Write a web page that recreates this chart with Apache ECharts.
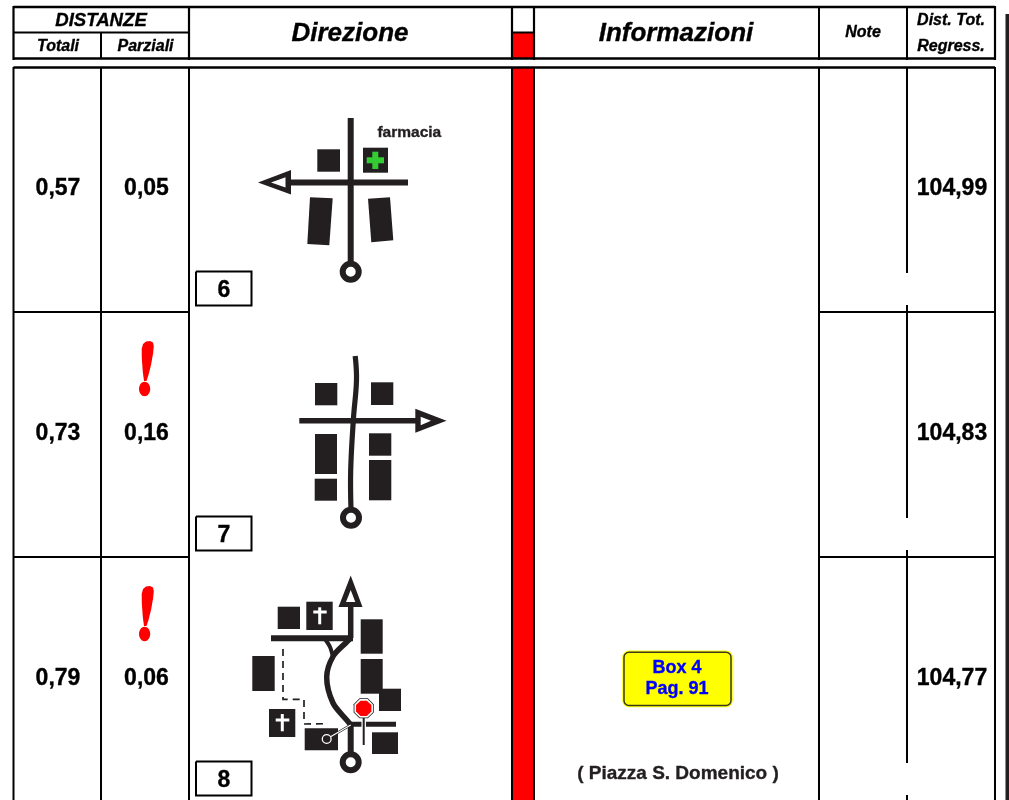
<!DOCTYPE html>
<html><head><meta charset="utf-8">
<style>html,body{margin:0;padding:0;background:#fff}#c{width:1009px;height:800px}</style>
<script src="https://cdn.jsdelivr.net/npm/echarts@6/dist/echarts.min.js"></script>
</head><body><div id="c"></div>
<script>
// ---- table values
const totali = ['0,57', '0,73', '0,79'];
const parziali = ['0,05', '0,16', '0,06'];
const regress = ['104,99', '104,83', '104,77'];
const stepNumbers = ['6', '7', '8'];
const hasWarning = [false, true, true];
const groupHeader = 'DISTANZE';
const subHeaders = ['Totali', 'Parziali'];
const mainHeaders = ['Direzione', 'Informazioni'];
const noteHeader = 'Note';
const regressHeader = ['Dist. Tot.', 'Regress.'];
const landmark = 'farmacia';
const boxLines = ['Box 4', 'Pag. 91'];
const placeName = '( Piazza S. Domenico )';

// ---- table geometry
const rowMid = [189, 434, 679];
const rowRule = [312, 557];
const stepBoxTop = [271.5, 516.5, 761.5];

const INK = '#231f20', BLACK = '#000', RED = '#ff0000', WHITE = '#fff';
const marks = [];
const line = (pts, w, c, extra) => marks.push(Object.assign({k: 'line', pts, w, c}, extra));
const poly = (pts, c) => marks.push({k: 'poly', pts, c});
const box = (x0, y0, x1, y1, c) => poly([[x0, y0], [x1, y0], [x1, y1], [x0, y1]], c);
const circle = (x, y, r, fill, stroke, w) => marks.push({k: 'circle', x, y, r, fill, stroke, w});
const text = (t, x, y, font, c) => marks.push({k: 'text', t, x, y, font, c});
const octagon = (x, y, r, c) => {
  const p = [];
  for (let i = 0; i < 8; i++) {
    const a = Math.PI / 8 + i * Math.PI / 4;
    p.push([x + r * Math.cos(a), y + r * Math.sin(a)]);
  }
  poly(p, c);
};

// ---- red column
box(512, 33, 534, 58, RED);
box(512, 68, 534, 800, RED);

// ---- header rules
const HW = 2.4;
line([[13.5, 7], [995, 7]], HW, BLACK);
line([[13.5, 58.5], [995, 58.5]], HW, BLACK);
line([[13.5, 32.5], [189, 32.5]], 2, BLACK);
line([[512, 32.5], [534, 32.5]], 2, BLACK);
[13.5, 189, 512, 534, 819, 907, 995].forEach(x => line([[x, 6], [x, 60]], x === 907 || x === 819 ? 2 : 2.2, BLACK));
line([[101, 32], [101, 59]], 2, BLACK);

// ---- body rules
line([[13.5, 67.5], [995, 67.5]], HW, BLACK);
[13.5, 101, 189, 512, 534, 819, 995].forEach(x => line([[x, 67], [x, 800]], 2, BLACK));
line([[907, 67], [907, 273]], 2, BLACK);
line([[907, 305], [907, 518]], 2, BLACK);
line([[907, 550], [907, 763]], 2, BLACK);
line([[907, 795], [907, 800]], 2, BLACK);
rowRule.forEach(y => {
  line([[13.5, y], [189, y]], 2, BLACK);
  line([[819, y], [995, y]], 2, BLACK);
});
line([[1007.5, 14], [1007.5, 800]], 4, INK);

// ---- header text
const bi = s => `italic bold ${s}px "Liberation Sans", Arial, sans-serif`;
const b = s => `bold ${s}px "Liberation Sans", Arial, sans-serif`;
text(groupHeader, 101, 21, bi(18.6), BLACK);
text(subHeaders[0], 58, 47, bi(16), BLACK);
text(subHeaders[1], 145.5, 47, bi(16), BLACK);
text(mainHeaders[0], 350, 34, bi(26), BLACK);
text(mainHeaders[1], 676, 34, bi(26), BLACK);
text(noteHeader, 863, 33, bi(16), BLACK);
text(regressHeader[0], 951, 21, bi(16), BLACK);
text(regressHeader[1], 951, 47, bi(16), BLACK);

// ---- row values
rowMid.forEach((y, i) => {
  text(totali[i], 58, y, b(23), BLACK);
  text(parziali[i], 146.5, y, b(23), BLACK);
  text(regress[i], 952, y, b(23), BLACK);
  const t = stepBoxTop[i];
  line([[196, t], [251.5, t], [251.5, t + 34], [196, t + 34], [196, t]], 2, BLACK);
  text(stepNumbers[i], 224, t + 19, b(23), BLACK);
  if (hasWarning[i]) {
    const d = (i - 1) * 245;
    poly([[146, 341.5], [150, 341], [153, 342.5], [153.8, 346], [153, 354], [151, 365], [148.5, 375], [146.5, 381],
      [144, 381], [142.8, 372], [141.8, 358], [141.7, 349], [143, 344]]
      .map(p => [p[0], p[1] + d]), RED);
    marks.push({k: 'ellipse', x: 144.6, y: 389 + d, rx: 5.6, ry: 7.2, c: RED});
  }
});

// ---- diagram 6
line([[350.7, 118], [350.7, 264]], 6, INK);
line([[288, 182.4], [408, 182.4]], 6, INK);
poly([[258, 182.4], [291, 170], [291, 194.5]], INK);
poly([[271, 182.4], [285.5, 177.3], [285.5, 187.5]], WHITE);
circle(350.7, 271.7, 8, WHITE, INK, 6);
box(317.3, 149.3, 340, 171.7, INK);
box(363, 147.7, 388, 172.7, INK);
box(372.3, 151.7, 378.3, 169, '#33cc33');
box(366.7, 157.3, 384, 163.3, '#33cc33');
poly([[310, 197.3], [332.7, 198.3], [329.3, 245.3], [307.3, 244]], INK);
poly([[368, 198.7], [390, 197.3], [393.3, 240.3], [371.3, 242.3]], INK);
text(landmark, 409.3, 133, b(15.5), INK);

// ---- diagram 7
line([[355.2, 356], [356.5, 380], [353.5, 418], [350.7, 470], [351, 510]], 5.2, INK, {smooth: 0.4});
line([[299.3, 420.7], [417, 420.7]], 5.5, INK);
poly([[446.5, 420.7], [415.3, 408.7], [415.3, 432.7]], INK);
poly([[431, 420.7], [420.7, 416.7], [420.7, 425.3]], WHITE);
circle(351, 517.7, 8, WHITE, INK, 6);
box(315, 383, 337.3, 405.3, INK);
box(371, 382.3, 393.3, 405, INK);
box(315, 434, 337, 474, INK);
box(314.7, 478.7, 337, 500.7, INK);
box(369, 433.3, 391.3, 455.7, INK);
box(369, 460, 391.3, 500.3, INK);

// ---- diagram 8
box(277.7, 606.7, 300, 629, INK);
box(306.3, 601.7, 332.7, 630, INK);
box(360.7, 619.3, 382.7, 653.7, INK);
box(360.7, 659, 382.7, 693.7, INK);
box(379, 688.7, 401, 711, INK);
box(252.3, 656, 274.7, 691, INK);
box(269, 709, 295.3, 737, INK);
box(304.7, 728.3, 338, 750.3, INK);
box(372, 732.3, 398, 754, INK);
line([[319.7, 607.3], [319.7, 624.3]], 3, WHITE);
line([[313.3, 612], [326.7, 612]], 3, WHITE);
line([[282.3, 714], [282.3, 731.3]], 3, WHITE);
line([[275.7, 720], [289.3, 720]], 3, WHITE);
line([[283, 649], [283, 699.3], [304, 699.3], [304, 724], [325, 723.7]], 1.7, INK, {dash: [7, 5]});
line([[350.7, 604], [350.7, 638]], 5.5, INK);
line([[271, 638.3], [353, 638.3]], 6, INK);
poly([[350.7, 575.5], [338.5, 607], [362.5, 607]], INK);
poly([[350.7, 590], [346, 602], [355.3, 602]], WHITE);
line([[351, 638], [346.7, 642], [333.3, 656], [326.7, 677], [333, 703], [346.7, 720], [351, 725]], 5.5, INK, {smooth: 0.3});
line([[325, 639], [330, 647], [333, 657]], 4, INK, {smooth: 0.3});
line([[350.7, 723], [350.7, 756]], 6, INK);
line([[350, 724.3], [396, 724.3]], 5, INK);
line([[363.7, 712], [363.7, 745]], 4.5, WHITE);
line([[363.7, 712], [363.7, 745]], 2, INK);
line([[326.7, 739], [350.7, 725]], 2.6, INK);
line([[326.7, 739], [350.7, 725]], 1.1, WHITE);
circle(326.7, 739, 4.4, INK, WHITE, 1.3);
circle(350.7, 762.3, 8, WHITE, INK, 6);
octagon(363.7, 708.3, 10.9, INK);
octagon(363.7, 708.3, 10, WHITE);
octagon(363.7, 708.3, 8.3, RED);

// ---- info column
marks.push({k: 'round', x0: 624, y0: 652.3, x1: 731, y1: 705.5, r: 5});
text(boxLines[0], 677, 668, b(18), '#0000ff');
text(boxLines[1], 677, 689, b(18), '#0000ff');
text(placeName, 678, 774, b(19), INK);

const toPts = (pts, api) => pts.map(p => api.coord(p));
function renderMark(params, api) {
  const m = marks[params.dataIndex];
  if (m.k === 'line') return {type: 'polyline', shape: {points: toPts(m.pts, api), smooth: m.smooth || 0},
    style: {fill: null, stroke: m.c, lineWidth: m.w, lineDash: m.dash || null}};
  if (m.k === 'poly') return {type: 'polygon', shape: {points: toPts(m.pts, api)}, style: {fill: m.c}};
  if (m.k === 'ellipse') {
    const c = api.coord([m.x, m.y]);
    return {type: 'ellipse', shape: {cx: c[0], cy: c[1], rx: m.rx, ry: m.ry}, style: {fill: m.c}};
  }
  if (m.k === 'circle') {
    const c = api.coord([m.x, m.y]);
    return {type: 'circle', shape: {cx: c[0], cy: c[1], r: m.r},
      style: {fill: m.fill, stroke: m.stroke || null, lineWidth: m.w || 0}};
  }
  if (m.k === 'text') {
    const c = api.coord([m.x, m.y]);
    return {type: 'text', style: {text: m.t, x: c[0], y: c[1], font: m.font, fill: m.c, stroke: m.c, lineWidth: 0.35,
      align: 'center', verticalAlign: 'middle'}};
  }
  if (m.k === 'round') {
    const a = api.coord([m.x0, m.y0]), e = api.coord([m.x1, m.y1]);
    const shape = {x: a[0], y: a[1], width: e[0] - a[0], height: e[1] - a[1], r: m.r};
    return {type: 'group', children: [
      {type: 'rect', shape, style: {fill: '#ffff00', stroke: '#ffff00', lineWidth: 3.5}},
      {type: 'rect', shape, style: {fill: '#ffff00', stroke: '#3a3a1c', lineWidth: 1.5}}]};
  }
}

const chart = echarts.init(document.getElementById('c'), null, {renderer: 'canvas'});
chart.setOption({
  animation: false,
  backgroundColor: '#fff',
  grid: {left: 0, right: 0, top: 0, bottom: 0},
  xAxis: {type: 'value', min: 0, max: 1009, show: false},
  yAxis: {type: 'value', min: 0, max: 800, inverse: true, show: false},
  tooltip: {show: false},
  series: [{type: 'custom', coordinateSystem: 'cartesian2d', clip: false, silent: true,
    renderItem: renderMark, data: marks.map((m, i) => [i])}]
});
</script></body></html>
